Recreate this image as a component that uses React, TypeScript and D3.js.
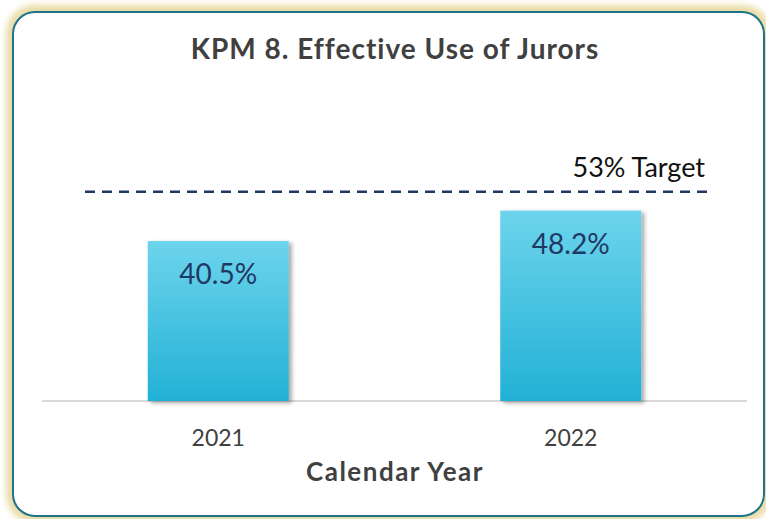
import React from 'react';
import { scaleBand, scaleLinear } from 'd3';

// chart data
const years = ['2021', '2022'];
const rates = [40.5, 48.2];
const target = 53;
const labels = ['40.5%', '48.2%'];

const W = 766;
const H = 519;
const FONT = 'Lato, "Open Sans", sans-serif';

export default function App() {
  const baseline = 401;
  const x = scaleBand<string>()
    .domain(years)
    .range([42, 747])
    .paddingInner(0.6)
    .paddingOuter(0.3);
  const y = scaleLinear().domain([0, 60]).range([baseline, baseline - 237]);

  const bars = years.map((yr, i) => ({ yr, v: rates[i], label: labels[i] }));

  return (
    <svg width={W} height={H} style={{ position: 'absolute', left: 0, top: 0 }}>
      <defs>
        <linearGradient id="barFill" x1="0" y1="0" x2="0" y2="1">
          <stop offset="0" stopColor="#6dd4ec" />
          <stop offset="1" stopColor="#22b1d6" />
        </linearGradient>
        <filter id="glow" x="-5%" y="-5%" width="110%" height="110%">
          <feGaussianBlur stdDeviation="3" />
        </filter>
        <filter id="shadow" x="-10%" y="-10%" width="130%" height="130%">
          <feGaussianBlur in="SourceAlpha" stdDeviation="2" />
          <feOffset dx="3" dy="2" result="b" />
          <feComponentTransfer><feFuncA type="linear" slope="0.35" /></feComponentTransfer>
          <feMerge>
            <feMergeNode />
            <feMergeNode in="SourceGraphic" />
          </feMerge>
        </filter>
      </defs>
      <rect x={0} y={0} width={W} height={H} fill="#ffffff" />
      {/* frame */}
      <rect x={13} y={12} width={751} height={504} rx={22} fill="none"
        stroke="#e9daa6" strokeWidth={14} filter="url(#glow)" />
      <rect x={13} y={12} width={751} height={504} rx={22} fill="#ffffff"
        stroke="#1d7489" strokeWidth={2} />

      <text x={395} y={59} textAnchor="middle" fontFamily={FONT} fontWeight="bold"
        fontSize={28} letterSpacing={1} fill="#404040">KPM 8. Effective Use of Jurors</text>

      {/* baseline */}
      <line x1={42} x2={747} y1={baseline} y2={baseline} stroke="#d9d9d9" strokeWidth={2} />

      {bars.map(d => (
        <g key={d.yr}>
          <rect x={x(d.yr)} y={y(d.v)} width={x.bandwidth()} height={baseline - y(d.v)}
            fill="url(#barFill)" filter="url(#shadow)" />
          <text x={(x(d.yr) as number) + x.bandwidth() / 2} y={y(d.v) + 43}
            textAnchor="middle" fontFamily={FONT} fontSize={28} fill="#1f3864">{d.label}</text>
          <text x={(x(d.yr) as number) + x.bandwidth() / 2} y={446}
            textAnchor="middle" fontFamily={FONT} fontSize={23} fill="#404040">{d.yr}</text>
        </g>
      ))}

      {/* target line */}
      <line x1={85} x2={708} y1={y(target)} y2={y(target)} stroke="#1f3864"
        strokeWidth={2.5} strokeDasharray="10 7" />
      <text x={705} y={177} textAnchor="end" fontFamily={FONT} fontSize={27}
        fill="#111111">53% Target</text>

      <text x={395} y={481} textAnchor="middle" fontFamily={FONT} fontWeight="bold"
        fontSize={26} letterSpacing={1.5} fill="#404040">Calendar Year</text>
    </svg>
  );
}
